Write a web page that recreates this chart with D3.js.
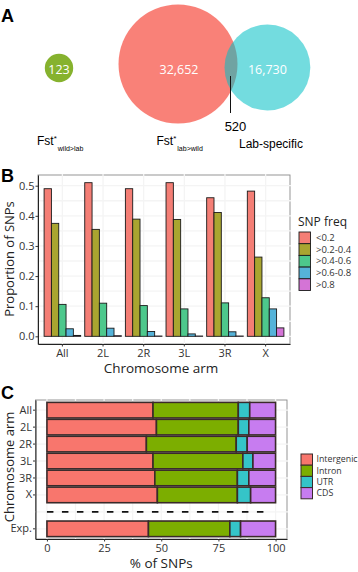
<!DOCTYPE html>
<html>
<head>
<meta charset="utf-8">
<script src="https://cdn.jsdelivr.net/npm/d3@7/dist/d3.min.js"></script>
<style>
  body { margin: 0; background: #fff; }
  text { font-family: "Open Sans", sans-serif; }
</style>
</head>
<body>
<svg id="fig" width="358" height="572"></svg>
<script>
// ---- data ----
// panel A (venn)
const vennSets = ["wild>lab", "lab>wild", "Lab-specific"];
const vennCounts = [123, 32652, 16730];
const vennOverlap = 520;

// panel B (SNP frequency per chromosome arm)
const arms = ["All", "2L", "2R", "3L", "3R", "X"];
const freqBins = ["<0.2", ">0.2-0.4", ">0.4-0.6", ">0.6-0.8", ">0.8"];
const freqLt02 = [0.490, 0.510, 0.490, 0.510, 0.460, 0.482];
const freq02to04 = [0.375, 0.355, 0.389, 0.388, 0.411, 0.263];
const freq04to06 = [0.106, 0.110, 0.102, 0.091, 0.111, 0.128];
const freq06to08 = [0.025, 0.027, 0.016, 0.008, 0.015, 0.091];
const freqGt08 = [0.003, 0.002, 0.001, 0.001, 0.001, 0.028];
const bTicks = [0, 0.1, 0.2, 0.3, 0.4, 0.5];

// panel C (% of SNPs per annotation class)
const rows = ["All", "2L", "2R", "3L", "3R", "X", "Exp."];
const classes = ["Intergenic", "Intron", "UTR", "CDS"];
const pctIntergenic = [46.4, 47.9, 43.5, 46.4, 47.2, 48.3, 44.4];
const pctIntron = [37.3, 35.8, 39.3, 39.3, 36.1, 35.0, 35.6];
const pctUTR = [5.0, 4.6, 4.8, 4.4, 5.0, 5.8, 4.7];
const pctCDS = [11.3, 11.7, 12.4, 9.9, 11.7, 10.9, 15.3];
const cTicks = [0, 25, 50, 75, 100];

const svg = d3.select("#fig");

// panel letters
function panelLetter(t, x, y) {
  svg.append("text").attr("x", x).attr("y", y).text(t)
    .style("font-family", "Liberation Sans, Arial, sans-serif")
    .style("font-weight", "bold").style("font-size", "18px");
}
panelLetter("A", 1, 22);
panelLetter("B", 1, 182);
panelLetter("C", 1, 399);

// ******** A: venn ********
const rScale = d3.scaleSqrt().domain([0, vennCounts[1] + vennOverlap]).range([0, 59.5]);
const rGreen = Math.max(rScale(vennCounts[0]), 14.2);
const rRed = rScale(vennCounts[1] + vennOverlap);
const rBlue = rScale(vennCounts[2] + vennOverlap);
const redX = 178, vennY = 66;
const blueX = redX + rRed + rBlue - 13;
const greenX = 59;

const va = svg.append("g");
va.append("circle").attr("cx", greenX).attr("cy", vennY + 2).attr("r", rGreen)
  .attr("fill", "#86B22E");
va.append("circle").attr("cx", redX).attr("cy", vennY - 2).attr("r", rRed)
  .attr("fill", "#F8766D").attr("opacity", 0.92);
va.append("circle").attr("cx", blueX).attr("cy", vennY + 1.5).attr("r", rBlue)
  .attr("fill", "#00BFC4").attr("opacity", 0.55);

const fmt = d3.format(",");
[[greenX, vennCounts[0]], [redX + 1, vennCounts[1]], [blueX, vennCounts[2]]].forEach(p => {
  va.append("text").attr("x", p[0]).attr("y", 73.5).attr("text-anchor", "middle")
    .attr("fill", "#fff").style("font-size", "12.5px").text(fmt(p[1]));
});

// overlap pointer
const lensX = redX + rRed - 7;
va.append("line").attr("x1", lensX).attr("x2", lensX).attr("y1", 76).attr("y2", 113)
  .attr("stroke", "#111").attr("stroke-width", 1);
va.append("text").attr("x", lensX + 5).attr("y", 131).attr("text-anchor", "middle")
  .style("font-family", "Liberation Sans, Arial, sans-serif").style("font-size", "13px")
  .text(vennOverlap);

function fstLabel(x, sub) {
  const t = va.append("text").attr("x", x).attr("y", 145)
    .style("font-family", "Liberation Sans, Arial, sans-serif").style("font-size", "12px");
  t.append("tspan").text("Fst");
  t.append("tspan").attr("dy", -4).style("font-size", "8px").text("*");
  t.append("tspan").attr("dy", 10).attr("dx", 1).style("font-size", "7px").text(sub);
}
fstLabel(37, vennSets[0]);
fstLabel(156.5, vennSets[1]);
va.append("text").attr("x", 239).attr("y", 148)
  .style("font-family", "Liberation Sans, Arial, sans-serif").style("font-size", "12px")
  .text(vennSets[2]);

// ******** B: grouped bars ********
const bL = 38, bR = 290, bT = 175, bB = 344;
const bSeries = [freqLt02, freq02to04, freq04to06, freq06to08, freqGt08];
const bColors = ["#F47E75", "#A9A530", "#4DC88C", "#55B3D9", "#D474D6"];

const x0 = d3.scaleBand().domain(arms).range([bL, bR]).paddingInner(0.1).paddingOuter(0.15);
const x1 = d3.scaleBand().domain(freqBins).range([0, x0.bandwidth()]);
const yB = d3.scaleLinear().domain([-0.0255, 0.5355]).range([bB, bT]);

const gB = svg.append("g");
gB.append("rect").attr("x", bL).attr("y", bT).attr("width", bR - bL).attr("height", bB - bT)
  .attr("fill", "none").attr("stroke", "#8a8a8a").attr("stroke-width", 0.9);
// grid (white-ish, breaks the border)
d3.range(0, 0.55, 0.05).forEach(v => {
  gB.append("line").attr("x1", bL + 1).attr("x2", bR + 1).attr("y1", yB(v)).attr("y2", yB(v))
    .attr("stroke", "#f4f4f4").attr("stroke-width", 1.3);
});
arms.forEach(a => {
  const cx = x0(a) + x0.bandwidth() / 2;
  gB.append("line").attr("x1", cx).attr("x2", cx).attr("y1", bT - 1).attr("y2", bB)
    .attr("stroke", "#f4f4f4").attr("stroke-width", 1.3);
});

const bData = [];
arms.forEach((a, i) => freqBins.forEach((f, j) => bData.push({ arm: a, bin: f, v: bSeries[j][i], j: j })));
gB.selectAll("rect.bar").data(bData).join("rect").attr("class", "bar")
  .attr("x", d => x0(d.arm) + x1(d.bin))
  .attr("width", x1.bandwidth())
  .attr("y", d => yB(d.v))
  .attr("height", d => yB(0) - yB(d.v))
  .attr("fill", d => bColors[d.j])
  .attr("stroke", "#1a1a1a").attr("stroke-width", 0.9);

const axBL = gB.append("g").attr("transform", `translate(${bL},0)`)
  .call(d3.axisLeft(yB).tickValues(bTicks).tickFormat(d3.format(".1f")).tickSize(2.5).tickSizeOuter(0));
const axBB = gB.append("g").attr("transform", `translate(0,${bB})`)
  .call(d3.axisBottom(x0).tickSize(2.5).tickSizeOuter(0));
[axBL, axBB].forEach(ax => {
  ax.select(".domain").attr("stroke", "#222").attr("stroke-width", 1);
  ax.selectAll(".tick line").attr("stroke", "#333");
  ax.selectAll(".tick text").attr("fill", "#333").style("font-size", "11px")
    .style("font-family", "Open Sans, sans-serif");
});
axBL.selectAll(".tick text").attr("x", -3.5);

svg.append("text").attr("transform", "translate(13.5,259) rotate(-90)").attr("text-anchor", "middle")
  .style("font-size", "13px").attr("fill", "#222").text("Proportion of SNPs");
svg.append("text").attr("x", bL + (bR - bL) / 2 - 3).attr("y", 373).attr("text-anchor", "middle")
  .style("font-size", "13.5px").attr("fill", "#222").text("Chromosome arm");

// legend B
const lgB = svg.append("g").attr("transform", "translate(299,226)");
lgB.append("text").attr("x", -1).attr("y", 0).style("font-size", "12px").attr("fill", "#222").text("SNP freq");
freqBins.forEach((f, j) => {
  lgB.append("rect").attr("x", 0).attr("y", 6 + j * 11.7).attr("width", 11.5).attr("height", 11.7)
    .attr("fill", bColors[j]).attr("stroke", "#1a1a1a").attr("stroke-width", 0.9);
  lgB.append("text").attr("x", 17).attr("y", 6 + j * 11.7 + 9).style("font-size", "9.5px")
    .attr("fill", "#333").text(f);
});

// ******** C: stacked bars ********
const cL = 35.5, cR = 287, cT = 400, cB = 539;
const cColors = ["#F8766D", "#7CAE00", "#35C4C8", "#C77CF0"];
const slots = rows.slice(0, 6).concat([" "], rows.slice(6));
const yC = d3.scaleBand().domain(slots).range([cT, cB]).paddingInner(0.08).paddingOuter(0.14);
const xC = d3.scaleLinear().domain([-5, 105]).range([cL, cR]);

const cTable = rows.map((r, i) => ({ row: r, Intergenic: pctIntergenic[i], Intron: pctIntron[i], UTR: pctUTR[i], CDS: pctCDS[i] }));
const stacked = d3.stack().keys(classes)(cTable);

const gC = svg.append("g");
gC.append("rect").attr("x", cL).attr("y", cT).attr("width", cR - cL).attr("height", cB - cT)
  .attr("fill", "none").attr("stroke", "#8a8a8a").attr("stroke-width", 0.9);
d3.range(0, 101, 12.5).forEach(v => {
  gC.append("line").attr("x1", xC(v)).attr("x2", xC(v)).attr("y1", cT - 1).attr("y2", cB)
    .attr("stroke", "#f4f4f4").attr("stroke-width", 1.3);
});
slots.forEach(s => {
  const cy = yC(s) + yC.bandwidth() / 2;
  gC.append("line").attr("x1", cL).attr("x2", cR + 1).attr("y1", cy).attr("y2", cy)
    .attr("stroke", "#f4f4f4").attr("stroke-width", 1.3);
});

gC.selectAll("g.layer").data(stacked).join("g").attr("class", "layer")
  .attr("fill", (d, i) => cColors[i])
  .selectAll("rect").data(d => d).join("rect")
  .attr("x", d => xC(d[0]))
  .attr("width", d => xC(d[1]) - xC(d[0]))
  .attr("y", d => yC(d.data.row))
  .attr("height", yC.bandwidth())
  .attr("stroke", "#3a2a2a").attr("stroke-width", 1.6);

// separator between arms and expected
const sepY = yC(" ") + yC.bandwidth() / 2;
gC.append("line").attr("x1", xC(0)).attr("x2", xC(97)).attr("y1", sepY).attr("y2", sepY)
  .attr("stroke", "#111").attr("stroke-width", 1.6).attr("stroke-dasharray", "6.5,8.5");

const axCL = gC.append("g").attr("transform", `translate(${cL},0)`)
  .call(d3.axisLeft(yC).tickValues(rows).tickSize(2.5).tickSizeOuter(0));
const axCB = gC.append("g").attr("transform", `translate(0,${cB})`)
  .call(d3.axisBottom(xC).tickValues(cTicks).tickSize(2.5).tickSizeOuter(0));
[axCL, axCB].forEach(ax => {
  ax.select(".domain").attr("stroke", "#222").attr("stroke-width", 1);
  ax.selectAll(".tick line").attr("stroke", "#333");
  ax.selectAll(".tick text").attr("fill", "#333").style("font-size", "11px")
    .style("font-family", "Open Sans, sans-serif");
});
axCL.selectAll(".tick text").attr("x", -3.5);

svg.append("text").attr("transform", "translate(13.5,467) rotate(-90)").attr("text-anchor", "middle")
  .style("font-size", "13px").attr("fill", "#222").text("Chromosome arm");
svg.append("text").attr("x", xC(50)).attr("y", 568).attr("text-anchor", "middle")
  .style("font-size", "13.5px").attr("fill", "#222").text("% of SNPs");

// legend C
const lgC = svg.append("g").attr("transform", "translate(301,454)");
classes.forEach((c, j) => {
  lgC.append("rect").attr("x", 0).attr("y", j * 11.2).attr("width", 11.5).attr("height", 11.2)
    .attr("fill", cColors[j]).attr("stroke", "#3a2a2a").attr("stroke-width", 1);
  lgC.append("text").attr("x", 15.5).attr("y", j * 11.2 + 8.4).style("font-size", "8.8px")
    .attr("fill", "#333").text(c);
});
</script>
</body>
</html>
